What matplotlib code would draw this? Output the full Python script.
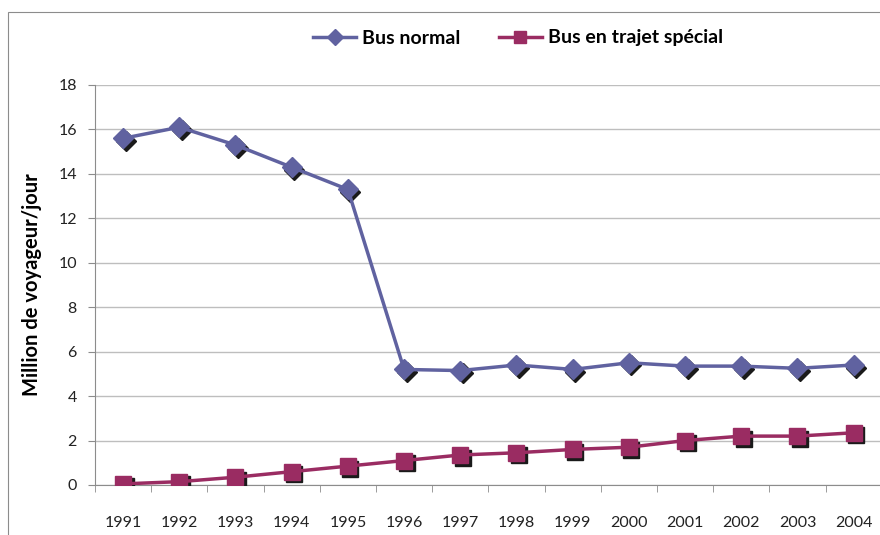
import matplotlib
matplotlib.use('Agg')
from matplotlib import pyplot as plt
from matplotlib import transforms as mtrans
from matplotlib.patches import Rectangle

plt.rcParams['font.family'] = ['Lato', 'DejaVu Sans']

# données
annees = ['1991', '1992', '1993', '1994', '1995', '1996', '1997',
          '1998', '1999', '2000', '2001', '2002', '2003', '2004']
bus_normal = [15.6, 16.1, 15.3, 14.3, 13.3, 5.2, 5.15, 5.4, 5.2, 5.5, 5.35, 5.35, 5.25, 5.4]
bus_special = [0.05, 0.15, 0.35, 0.6, 0.85, 1.1, 1.35, 1.45, 1.6, 1.7, 2.0, 2.2, 2.2, 2.35]

c_normal = '#6062A0'
c_special = '#9A2C62'

fig = plt.figure(figsize=(8.8, 5.35), dpi=100)
fig.patches.append(Rectangle((8 / 880, -0.01), 2, 1 - 12 / 535 + 0.01,
                             transform=fig.transFigure, fill=False,
                             edgecolor='#8C8C8C', lw=0.8))
ax = fig.add_axes([95 / 880, 1 - 485 / 535, 1 - 95 / 880 + 0.002, 400 / 535])

x = list(range(1, len(annees) + 1))

# ombre des marqueurs
ombre = mtrans.offset_copy(ax.transData, fig=fig, x=2.5, y=-2.5, units='dots')
ax.plot(x, bus_normal, ls='none', marker='D', ms=10, color='#1A1A1A',
        transform=ombre, zorder=3)
ax.plot(x, bus_special, ls='none', marker='s', ms=11, color='#1A1A1A',
        transform=ombre, zorder=3)

ax.plot(x, bus_normal, color=c_normal, lw=2.5, marker='D', ms=10,
        mfc=c_normal, mec=c_normal, zorder=4, label='Bus normal')
ax.plot(x, bus_special, color=c_special, lw=2.5, marker='s', ms=11,
        mfc=c_special, mec=c_special, zorder=4, label='Bus en trajet spécial')

ax.set_xlim(0.5, len(annees) + 0.5)
ax.set_ylim(0, 18)
ax.set_yticks(range(0, 19, 2))
ax.set_xticks(x)
ax.set_xticklabels(annees)
ax.set_xticks([i + 0.5 for i in range(len(annees))], minor=True)
ax.tick_params(axis='x', which='major', length=0, pad=22, labelsize=11.5, colors='#222222')
ax.tick_params(axis='x', which='minor', length=5, color='#8C8C8C', direction='out')
ax.tick_params(axis='y', length=5, color='#8C8C8C', labelsize=11.5, labelcolor='#222222', pad=8)

ax.grid(axis='y', color='#BEBEBE', lw=1)
ax.set_axisbelow(True)
for s in ['top', 'right']:
    ax.spines[s].set_visible(False)
ax.spines['left'].set_color('#8C8C8C')
ax.spines['bottom'].set_color('#8C8C8C')

ax.set_ylabel('Million de voyageur/jour', fontsize=14.5, fontweight='bold', labelpad=12)

leg = fig.legend(loc='center', bbox_to_anchor=(518 / 880, 1 - 38 / 535), ncol=2,
                 frameon=False, prop={'size': 14, 'weight': 'bold'},
                 handlelength=2.2, columnspacing=2.0, handletextpad=0.3,
                 markerscale=0.8)

plt.savefig('out.png', dpi=100)
